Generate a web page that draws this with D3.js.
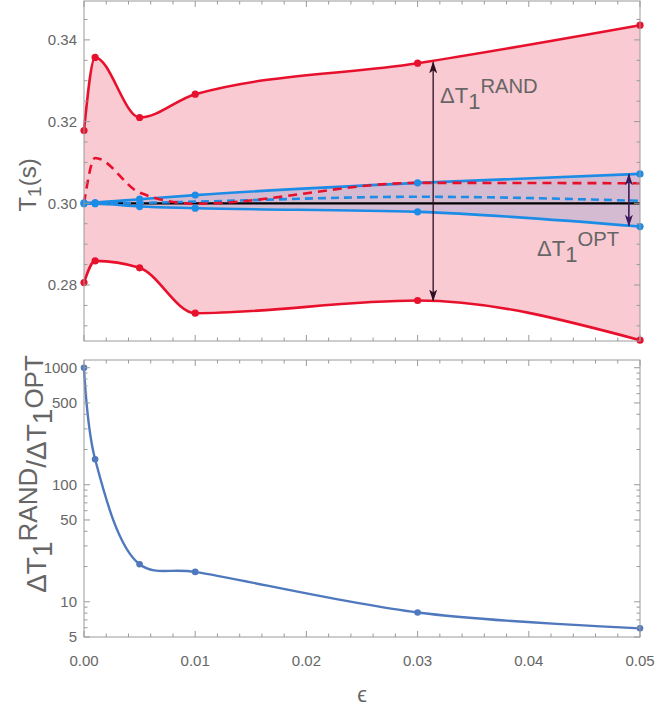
<!DOCTYPE html>
<html><head><meta charset="utf-8">
<script src="https://cdn.jsdelivr.net/npm/d3@7"></script>
<style>
html,body{margin:0;padding:0;background:#fff;}
svg{display:block;font-family:"Liberation Sans","DejaVu Sans",sans-serif;}
</style></head>
<body><svg id="c" width="659" height="709"></svg>
<script>
// ---------- data ----------
const eps = [0, 0.001, 0.005, 0.01, 0.03, 0.05];
const randUpper = [0.3178, 0.3357, 0.3210, 0.3267, 0.3343, 0.3436];
const randLower = [0.2806, 0.2859, 0.2842, 0.2731, 0.2762, 0.2665];
const randMean  = [0.3000, 0.3111, 0.3026, 0.2999, 0.3050, 0.3049];
const optUpper  = [0.3001, 0.3002, 0.3010, 0.3020, 0.3050, 0.3072];
const optLower  = [0.2999, 0.2999, 0.2992, 0.2988, 0.2979, 0.2943];
const optMean   = [0.3000, 0.3000, 0.3001, 0.3004, 0.3016, 0.3006];
const trueT1 = 0.30;
const ratio = [1000, 165, 20.9, 18.0, 8.1, 5.93];
const xTicks = [0, 0.01, 0.02, 0.03, 0.04, 0.05];
const yTopTicks = [0.28, 0.30, 0.32, 0.34];
const yBotTicks = [5, 10, 50, 100, 500, 1000];
const arrowRandEps = 0.0314, arrowOptEps = 0.049;

// ---------- layout ----------
const L = 84, R = 640;
const T1top = 1, T1bot = 341;
const T2top = 360, T2bot = 637;
const grey = "#666", axisCol = "#9a9a9a";
const RED = "#e8112d", BLUE = "#1c8ce6", PINK = "#f9cad2", MAUVE = "#d5bbd1", LINE2 = "#4f78bd";

const svg = d3.select("#c");
const x = d3.scaleLinear().domain([0, 0.05]).range([L, R]);
const yT = d3.scaleLinear().domain([0.26629, 0.34952]).range([T1bot, T1top]);
const yB = d3.scaleLog().domain([5, 1164]).range([T2bot, T2top]);

const CURVE = d3.curveMonotoneX;
const zip = (a) => eps.map((e, i) => [e, a[i]]);
const bandData = (up, lo) => eps.map((e, i) => ({ e, u: up[i], l: lo[i] }));

// ---------- top panel ----------
const gTop = svg.append("g");
gTop.append("path").datum(bandData(randUpper, randLower))
  .attr("d", d3.area().x(d => x(d.e)).y0(d => yT(d.l)).y1(d => yT(d.u)).curve(CURVE))
  .attr("fill", PINK);
gTop.append("path").datum(bandData(optUpper, optLower))
  .attr("d", d3.area().x(d => x(d.e)).y0(d => yT(d.l)).y1(d => yT(d.u)).curve(CURVE))
  .attr("fill", MAUVE);

const lineT = d3.line().x(d => x(d[0])).y(d => yT(d[1])).curve(CURVE);
gTop.append("path").datum([[0, trueT1], [0.05, trueT1]]).attr("d", d3.line().x(d => x(d[0])).y(d => yT(d[1])))
  .attr("stroke", "#000").attr("stroke-width", 2.2).attr("fill", "none");
[randUpper, randLower].forEach(s => {
  gTop.append("path").datum(zip(s)).attr("d", lineT).attr("fill", "none").attr("stroke", RED).attr("stroke-width", 2.6);
});
[optUpper, optLower].forEach(s => {
  gTop.append("path").datum(zip(s)).attr("d", lineT).attr("fill", "none").attr("stroke", BLUE).attr("stroke-width", 2.6);
});
gTop.append("path").datum(zip(optMean)).attr("d", lineT).attr("fill", "none").attr("stroke", BLUE)
  .attr("stroke-width", 2.6).attr("stroke-dasharray", "8,5");
gTop.append("path").datum(zip(randMean)).attr("d", lineT).attr("fill", "none").attr("stroke", RED)
  .attr("stroke-width", 2.6).attr("stroke-dasharray", "9,6");
[[randUpper, RED], [randLower, RED], [optUpper, BLUE], [optLower, BLUE]].forEach(([s, col]) => {
  gTop.selectAll(null).data(zip(s)).enter().append("circle")
    .attr("cx", d => x(d[0])).attr("cy", d => yT(d[1])).attr("r", 3.6).attr("fill", col);
});

// arrows
const defs = svg.append("defs");
function marker(id, col) {
  defs.append("marker").attr("id", id).attr("viewBox", "0 0 12 8").attr("refX", 11).attr("refY", 4)
    .attr("markerWidth", 12).attr("markerHeight", 8).attr("markerUnits", "userSpaceOnUse").attr("orient", "auto-start-reverse")
    .append("path").attr("d", "M0,0 L12,4 L0,8 L3,4 Z").attr("fill", col);
}
marker("ar1", "#2e0f22");
marker("ar2", "#3a1a5c");
gTop.append("line").attr("x1", x(arrowRandEps)).attr("x2", x(arrowRandEps))
  .attr("y1", yT(0.3345)).attr("y2", yT(0.2762)).attr("stroke", "#2e0f22").attr("stroke-width", 1.3)
  .attr("marker-start", "url(#ar1)").attr("marker-end", "url(#ar1)");
gTop.append("line").attr("x1", x(arrowOptEps)).attr("x2", x(arrowOptEps))
  .attr("y1", yT(0.3071)).attr("y2", yT(0.2945)).attr("stroke", "#3a1a5c").attr("stroke-width", 1.6)
  .attr("marker-start", "url(#ar2)").attr("marker-end", "url(#ar2)");

// annotations
function deltaLabel(g, px, py, sup, fs) {
  const t = g.append("text").attr("x", px).attr("y", py).attr("fill", grey).attr("font-size", fs);
  t.append("tspan").text("ΔT");
  t.append("tspan").attr("dy", fs * 0.28).attr("font-size", fs).text("1");
  t.append("tspan").attr("dy", -fs * 0.72).attr("font-size", fs * 0.92).text(sup);
  return t;
}
deltaLabel(gTop, 440, 103, "RAND", 22);
deltaLabel(gTop, 537, 256, "OPT", 22);

// frame + ticks
function frame(g, y0, y1) {
  g.append("rect").attr("x", L).attr("y", y0).attr("width", R - L).attr("height", y1 - y0)
    .attr("fill", "none").attr("stroke", axisCol).attr("stroke-width", 1);
  const xMinor = d3.range(0, 0.0501, 0.002);
  xMinor.forEach(v => {
    const major = Math.abs(Math.round(v * 100) - v * 100) < 1e-6;
    const len = major ? 6 : 3.5;
    g.append("line").attr("x1", x(v)).attr("x2", x(v)).attr("y1", y1).attr("y2", y1 - len).attr("stroke", axisCol);
    g.append("line").attr("x1", x(v)).attr("x2", x(v)).attr("y1", y0).attr("y2", y0 + len).attr("stroke", axisCol);
  });
}
const gTopAx = svg.append("g");
frame(gTopAx, T1top, T1bot);
d3.range(0.27, 0.3451, 0.005).forEach(v => {
  const major = yTopTicks.some(t => Math.abs(t - v) < 1e-6);
  const len = major ? 6 : 3.5;
  gTopAx.append("line").attr("x1", L).attr("x2", L + len).attr("y1", yT(v)).attr("y2", yT(v)).attr("stroke", axisCol);
  gTopAx.append("line").attr("x1", R).attr("x2", R - len).attr("y1", yT(v)).attr("y2", yT(v)).attr("stroke", axisCol);
});
yTopTicks.forEach(v => {
  gTopAx.append("text").attr("x", L - 7).attr("y", yT(v)).attr("dy", "0.35em").attr("text-anchor", "end")
    .attr("fill", grey).attr("font-size", 15).text(d3.format(".2f")(v));
});
const yl1 = svg.append("text").attr("transform", `translate(36,185) rotate(-90)`).attr("text-anchor", "middle")
  .attr("fill", grey).attr("font-size", 24);
yl1.append("tspan").text("T");
yl1.append("tspan").attr("dy", 5).attr("font-size", 19).text("1");
yl1.append("tspan").attr("dy", -5).text("(s)");

// ---------- bottom panel ----------
const gBot = svg.append("g");
gBot.append("path").datum(eps.map((e, i) => [e, ratio[i]]))
  .attr("d", d3.line().x(d => x(d[0])).y(d => yB(d[1])).curve(d3.curveCatmullRom.alpha(0.5)))
  .attr("fill", "none").attr("stroke", LINE2).attr("stroke-width", 2.4);
gBot.selectAll(null).data(eps.map((e, i) => [e, ratio[i]])).enter().append("circle")
  .attr("cx", d => x(d[0])).attr("cy", d => yB(d[1])).attr("r", 3.3).attr("fill", LINE2);

const gBotAx = svg.append("g");
frame(gBotAx, T2top, T2bot);
const logMinor = [];
[1, 10, 100, 1000].forEach(dec => { for (let k = 1; k < 10; k++) { const v = k * dec; if (v >= 5 && v <= 1164) logMinor.push(v); } });
logMinor.forEach(v => {
  const major = yBotTicks.includes(v);
  const len = major ? 6 : 3.5;
  gBotAx.append("line").attr("x1", L).attr("x2", L + len).attr("y1", yB(v)).attr("y2", yB(v)).attr("stroke", axisCol);
  gBotAx.append("line").attr("x1", R).attr("x2", R - len).attr("y1", yB(v)).attr("y2", yB(v)).attr("stroke", axisCol);
});
yBotTicks.forEach(v => {
  gBotAx.append("text").attr("x", L - 7).attr("y", yB(v)).attr("dy", "0.35em").attr("text-anchor", "end")
    .attr("fill", grey).attr("font-size", 15).text(v);
});
xTicks.forEach(v => {
  gBotAx.append("text").attr("x", x(v)).attr("y", 666).attr("text-anchor", "middle")
    .attr("fill", grey).attr("font-size", 15).text(d3.format(".2f")(v));
});
svg.append("text").attr("x", 362).attr("y", 702).attr("text-anchor", "middle").attr("fill", grey)
  .attr("font-size", 22).text("ϵ");

const yl2 = svg.append("text").attr("transform", `translate(46,474) rotate(-90)`).attr("text-anchor", "middle")
  .attr("fill", grey).attr("font-size", 28);
yl2.append("tspan").text("ΔT");
yl2.append("tspan").attr("dy", 6).text("1");
yl2.append("tspan").attr("dy", -15).attr("font-size", 26).text("RAND");
yl2.append("tspan").attr("dy", 9).text("/ΔT");
yl2.append("tspan").attr("dy", 6).text("1");
yl2.append("tspan").attr("dy", -9).attr("font-size", 26).text("OPT");
</script></body></html>
